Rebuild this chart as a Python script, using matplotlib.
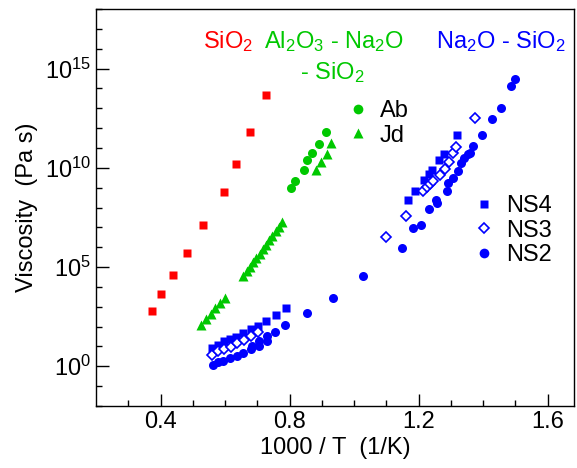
import numpy as np
import matplotlib
matplotlib.use('Agg')
import matplotlib.pyplot as plt
from matplotlib.ticker import FixedLocator, FuncFormatter
from matplotlib.lines import Line2D

plt.rcParams['font.family'] = ['Liberation Sans', 'DejaVu Sans']
plt.rcParams['mathtext.fontset'] = 'custom'
plt.rcParams['mathtext.rm'] = 'Liberation Sans'
plt.rcParams['mathtext.it'] = 'Liberation Sans:italic'
plt.rcParams['font.size'] = 17

RED = '#FF0000'
GREEN = '#00C800'
BLUE = '#0000FF'

# x = 1000/T (1/K), y = log10(viscosity / Pa s)
sio2_x = [0.375, 0.402, 0.440, 0.483, 0.533, 0.598, 0.635, 0.678, 0.728]
sio2_logy = [2.79, 3.64, 4.60, 5.71, 7.12, 8.78, 10.19, 11.80, 13.66]

ab_x = [0.805, 0.817, 0.845, 0.853, 0.869, 0.891, 0.912]
ab_logy = [8.96, 9.35, 9.91, 10.39, 10.77, 11.22, 11.78]

jd_x = [0.526, 0.541, 0.556, 0.570, 0.585, 0.600,
        0.657, 0.667, 0.677, 0.687, 0.697, 0.707, 0.717, 0.727, 0.737,
        0.747, 0.757, 0.767, 0.776,
        0.883, 0.899, 0.916, 0.930]
jd_logy = [2.10, 2.37, 2.64, 2.92, 3.19, 3.46,
           4.56, 4.78, 5.01, 5.23, 5.46, 5.68, 5.90, 6.13, 6.35,
           6.57, 6.80, 7.02, 7.25,
           9.89, 10.27, 10.69, 11.26]

ns4_x = [0.561, 0.579, 0.597, 0.616, 0.634, 0.657, 0.680, 0.703, 0.728, 0.757, 0.788,
         1.167, 1.189, 1.218, 1.233, 1.241, 1.264, 1.280, 1.318]
ns4_logy = [0.91, 1.09, 1.26, 1.38, 1.49, 1.68, 1.86, 2.03, 2.30, 2.59, 2.94,
            8.37, 8.84, 9.38, 9.68, 9.88, 10.39, 10.69, 11.66]

ns3_x = [0.561, 0.579, 0.598, 0.618, 0.638, 0.659, 0.682, 0.703,
         1.099, 1.161, 1.215, 1.225, 1.236, 1.246, 1.267, 1.282, 1.295, 1.308, 1.316, 1.375]
ns3_logy = [0.57, 0.75, 0.88, 0.99, 1.16, 1.33, 1.55, 1.75,
            6.49, 7.58, 8.81, 9.01, 9.18, 9.35, 9.65, 9.96, 10.27, 10.74, 11.07, 12.50]

ns2_x = [0.564, 0.579, 0.595, 0.616, 0.636, 0.657, 0.680, 0.683, 0.706, 0.706,
         0.729, 0.729, 0.756, 0.786,
         0.853, 0.934, 1.029, 1.148, 1.184, 1.208, 1.233, 1.254, 1.256, 1.287,
         1.291, 1.306, 1.323, 1.331, 1.342, 1.353, 1.360, 1.368, 1.396, 1.427,
         1.456, 1.486, 1.499]
ns2_logy = [0.07, 0.20, 0.29, 0.42, 0.54, 0.67, 0.87, 1.00, 1.04, 1.26,
            1.29, 1.51, 1.71, 2.08,
            2.69, 3.44, 4.56, 5.95, 6.95, 7.12, 7.92, 8.39, 8.22, 8.81,
            9.21, 9.51, 9.85, 10.24, 10.49, 10.69, 10.74, 11.11, 11.65, 12.45,
            13.00, 14.13, 14.46]

y_major = [1e0, 1e5, 1e10, 1e15]
y_minor = [10.0 ** k for k in range(-2, 19)]
x_major = [0.4, 0.8, 1.2, 1.6]
x_minor = [0.3, 0.5, 0.6, 0.7, 0.9, 1.0, 1.1, 1.3, 1.4, 1.5]

fig = plt.figure(figsize=(5.77, 4.68), dpi=100)
ax = fig.add_axes([96 / 577, 62 / 468, 478 / 577, 397 / 468])

ms = 6
ax.plot(sio2_x, 10.0 ** np.array(sio2_logy), 's', color=RED, ms=ms - 0.5, mec='none')
ax.plot(ab_x, 10.0 ** np.array(ab_logy), 'o', color=GREEN, ms=ms + 0.5, mec='none')
ax.plot(jd_x, 10.0 ** np.array(jd_logy), '^', color=GREEN, ms=ms + 1, mec='none')
ax.plot(ns4_x, 10.0 ** np.array(ns4_logy), 's', color=BLUE, ms=ms - 0.5, mec='none')
ax.plot(ns2_x, 10.0 ** np.array(ns2_logy), 'o', color=BLUE, ms=ms + 0.5, mec='none')
ax.plot(ns3_x, 10.0 ** np.array(ns3_logy), 'D', color=BLUE, ms=ms - 1,
        mfc='white', mew=1.2)

ax.set_yscale('log')
ax.set_xlim(0.2, 1.682)
ax.set_ylim(1e-2, 1e18)

ax.yaxis.set_major_locator(FixedLocator(y_major))
ax.yaxis.set_minor_locator(FixedLocator(y_minor))
ax.yaxis.set_major_formatter(FuncFormatter(
    lambda v, p: r'$\mathregular{10^{%d}}$' % int(round(np.log10(v)))))
ax.yaxis.set_minor_formatter(FuncFormatter(lambda v, p: ''))
ax.xaxis.set_major_locator(FixedLocator(x_major))
ax.xaxis.set_minor_locator(FixedLocator(x_minor))
ax.xaxis.set_major_formatter(FuncFormatter(lambda v, p: '%.1f' % v))

ax.tick_params(which='both', direction='in', top=False, right=False,
               labelsize=17, width=1.0)
ax.tick_params(which='major', length=9)
ax.tick_params(which='minor', length=4.5)
for s in ax.spines.values():
    s.set_linewidth(1.0)

ax.set_xlabel('1000 / T  (1/K)', fontsize=17, labelpad=3)
ax.set_ylabel('Viscosity  (Pa s)', fontsize=17, labelpad=5)

ax.text(0.276, 0.917, r'SiO$\mathregular{_2}$', color=RED, fontsize=17,
        ha='center', va='center', transform=ax.transAxes)
ax.text(0.497, 0.917, r'Al$\mathregular{_2}$O$\mathregular{_3}$ - Na$\mathregular{_2}$O',
        color=GREEN, fontsize=17, ha='center', va='center', transform=ax.transAxes)
ax.text(0.494, 0.841, r'- SiO$\mathregular{_2}$', color=GREEN, fontsize=17,
        ha='center', va='center', transform=ax.transAxes)
ax.text(0.847, 0.917, r'Na$\mathregular{_2}$O - SiO$\mathregular{_2}$', color=BLUE,
        fontsize=17, ha='center', va='center', transform=ax.transAxes)

h_ab = Line2D([], [], ls='none', marker='o', color=GREEN, ms=ms + 1, mec='none')
h_jd = Line2D([], [], ls='none', marker='^', color=GREEN, ms=ms + 1.5, mec='none')
leg1 = ax.legend([h_ab, h_jd], ['Ab', 'Jd'], loc='upper left',
                 bbox_to_anchor=(0.525, 0.770), frameon=False, fontsize=17,
                 handlelength=0.95, handletextpad=0.45, labelspacing=0.1,
                 borderpad=0, borderaxespad=0, numpoints=1)
ax.add_artist(leg1)

h_ns4 = Line2D([], [], ls='none', marker='s', color=BLUE, ms=ms, mec='none')
h_ns3 = Line2D([], [], ls='none', marker='D', color=BLUE, ms=ms - 0.5, mfc='white', mew=1.2)
h_ns2 = Line2D([], [], ls='none', marker='o', color=BLUE, ms=ms + 1, mec='none')
ax.legend([h_ns4, h_ns3, h_ns2], ['NS4', 'NS3', 'NS2'], loc='upper left',
          bbox_to_anchor=(0.789, 0.532), frameon=False, fontsize=17,
          handlelength=0.95, handletextpad=0.45, labelspacing=0.12,
          borderpad=0, borderaxespad=0, numpoints=1)

fig.savefig('out.png', dpi=100)
